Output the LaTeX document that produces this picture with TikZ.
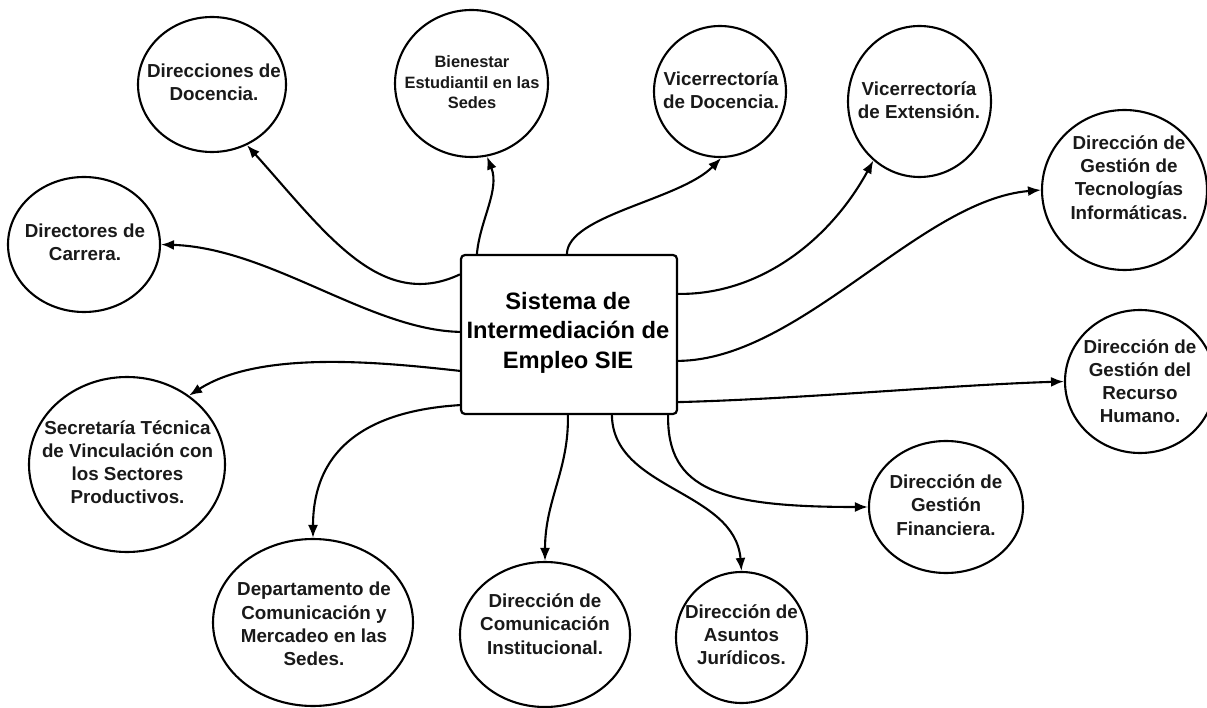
\documentclass[tikz,border=0pt]{standalone}
\usepackage{fontspec}
\setmainfont{Liberation Sans}
\usetikzlibrary{shapes.geometric,arrows.meta}
\begin{document}
\begin{tikzpicture}[x=1pt,y=-1pt,
  oval/.style={ellipse,draw=black,line width=2.1pt,inner sep=0pt},
  lbl/.style={align=center,font=\bfseries\fontsize{18.8}{23.2}\selectfont,text=black!90,inner sep=0pt},
  lblsmall/.style={align=center,font=\bfseries\fontsize{16.4}{20.5}\selectfont,text=black!90,inner sep=0pt},
  conn/.style={line width=2.1pt,-{Latex[length=13pt,width=10pt]}}]
\useasboundingbox (0,0) rectangle (1207,708);
\clip (0,0) rectangle (1207,708);
\fill[white] (0,0) rectangle (1207,708);

% central box
\node[draw=black,line width=2.2pt,rounded corners=4pt,minimum width=216pt,minimum height=159pt,inner sep=0pt] (sie) at (569,334.5) {};
\node[align=center,font=\bfseries\fontsize{23.7}{29.5}\selectfont,inner sep=0pt] (siet) at (568,332.5) {Sistema de\\Intermediación de\\Empleo SIE};

% ellipses
\node[oval,minimum width=148pt,minimum height=135pt] (e1) at (212,84.5) {};
\node[oval,minimum width=153pt,minimum height=147pt] (e2) at (471.5,83.5) {};
\node[oval,minimum width=132pt,minimum height=131pt] (e3) at (720,91.5) {};
\node[oval,minimum width=143pt,minimum height=151pt] (e4) at (919.5,101.5) {};
\node[oval,minimum width=165pt,minimum height=160pt] (e5) at (1124.5,190) {};
\node[oval,minimum width=152pt,minimum height=135pt] (e6) at (84,244.5) {};
\node[oval,minimum width=150pt,minimum height=143pt] (e7) at (1140,381.5) {};
\node[oval,minimum width=196pt,minimum height=175pt] (e8) at (127,464.5) {};
\node[oval,minimum width=154pt,minimum height=132pt] (e9) at (946,507) {};
\node[oval,minimum width=200pt,minimum height=167pt] (e10) at (313,622.5) {};
\node[oval,minimum width=170pt,minimum height=145pt] (e11) at (545,634.5) {};
\node[oval,minimum width=131pt,minimum height=131pt] (e12) at (741.5,637.5) {};

% labels
\node[lbl] (t1) at (214,82.5) {Direcciones de\\Docencia.};
\node[lblsmall] (t2) at (472,82.5) {Bienestar\\Estudiantil en las\\Sedes};
\node[lbl] (t3) at (721,90) {Vicerrectoría\\de Docencia.};
\node[lbl] (t4) at (919,100) {Vicerrectoría\\de Extensión.};
\node[lbl] (t5) at (1129,177.5) {Dirección de\\Gestión de\\Tecnologías\\Informáticas.};
\node[lbl] (t6) at (85,242.5) {Directores de\\Carrera.};
\node[lbl] (t7) at (1140,381) {Dirección de\\Gestión del\\Recurso\\Humano.};
\node[lbl] (t8) at (127.5,462) {Secretaría Técnica\\de Vinculación con\\los Sectores\\Productivos.};
\node[lbl] (t9) at (946,505) {Dirección de\\Gestión\\Financiera.};
\node[lbl] (t10) at (314,624) {Departamento de\\Comunicación y\\Mercadeo en las\\Sedes.};
\node[lbl] (t11) at (545,624) {Dirección de\\Comunicación\\Institucional.};
\node[lbl] (t12) at (741.5,634.5) {Dirección de\\Asuntos\\Jurídicos.};

% connectors: left side
\draw[conn] ([yshift=-20.5pt]sie.north west) .. controls (380,312) and (325,232) .. (e1.300);
\draw[conn] ([yshift=-78pt]sie.north west) .. controls (370,330) and (270,248) .. (e6.east);
\draw[conn] ([yshift=-117pt]sie.north west) .. controls (380,362) and (260,350) .. (e8.48);
\draw[conn] ([yshift=10pt]sie.south west) .. controls (380,410) and (313,440) .. (e10.north);
% top
\draw[conn] ([xshift=17pt]sie.north west) .. controls (480,220) and (500,190) .. (e2.282);
\draw[conn] ([xshift=107pt]sie.north west) .. controls (568,215) and (680,200) .. (e3.271);
% right
\draw[conn] ([yshift=-40pt]sie.north east) .. controls (760,295) and (830,240) .. (e4.232);
\draw[conn] ([yshift=-107pt]sie.north east) .. controls (800,360) and (920,200) .. (e5.west);
\draw[conn] ([yshift=13pt]sie.south east) .. controls (800,399) and (950,385) .. (e7.west);
% bottom
\draw[conn] ([xshift=108pt]sie.south west) .. controls (569,470) and (545,500) .. (e11.north);
\draw[conn] ([xshift=152pt]sie.south west) .. controls (613,490) and (735,490) .. (e12.north);
\draw[conn] ([xshift=-10pt]sie.south east) .. controls (667,490) and (720,507) .. (e9.west);
\end{tikzpicture}
\end{document}
